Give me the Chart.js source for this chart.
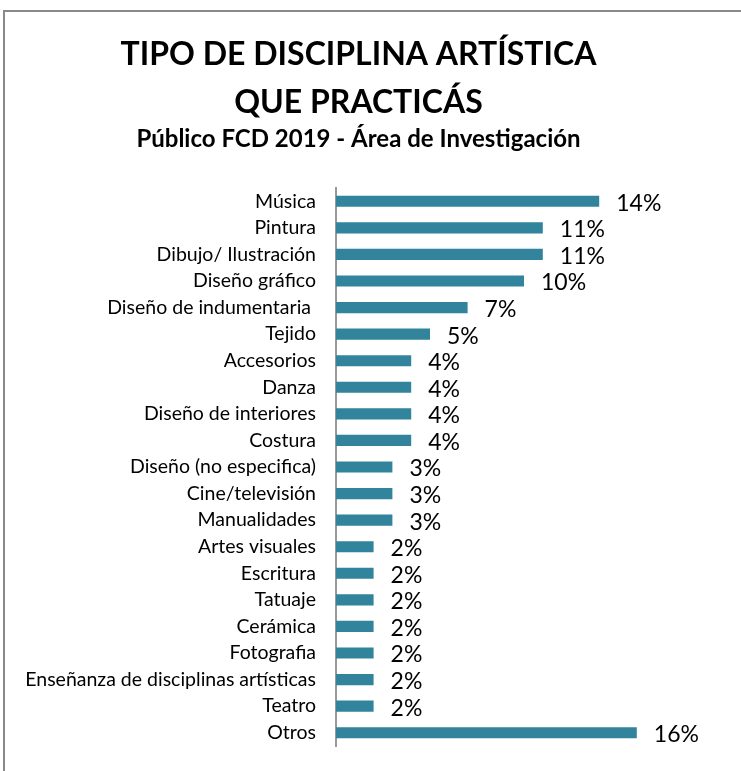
<!DOCTYPE html>
<html>
<head>
<meta charset="utf-8">
<script src="https://cdn.jsdelivr.net/npm/chart.js@4.4.0/dist/chart.umd.min.js"></script>
<style>
  body { margin: 0; background: #fff; overflow: hidden; }
  #box {
    position: absolute; left: 3px; top: 10px;
    width: 760px; height: 780px;
    border: 2px solid #898989;
    background: #fff;
  }
  #myChart { position: absolute; left: 0; top: 0; }
</style>
</head>
<body>
<div id="box"><canvas id="myChart" width="734" height="759"></canvas></div>
<script>
// data
const disciplinas = [
  'Música', 'Pintura', 'Dibujo/ Ilustración', 'Diseño gráfico', 'Diseño de indumentaria ',
  'Tejido', 'Accesorios', 'Danza', 'Diseño de interiores', 'Costura',
  'Diseño (no especifica)', 'Cine/televisión', 'Manualidades', 'Artes visuales', 'Escritura',
  'Tatuaje', 'Cerámica', 'Fotografia', 'Enseñanza de disciplinas artísticas', 'Teatro', 'Otros'
];
const porcentajes = [14, 11, 11, 10, 7, 5, 4, 4, 4, 4, 3, 3, 3, 2, 2, 2, 2, 2, 2, 2, 16];
const tituloLineas = ['TIPO DE DISCIPLINA ARTÍSTICA', 'QUE PRACTICÁS'];
const subtitulo = 'Público FCD 2019 - Área de Investigación';

const FONT = 'Lato, "Open Sans", sans-serif';

// value labels at the end of each bar
const etiquetas = {
  id: 'etiquetas',
  afterDatasetsDraw(chart) {
    const ctx = chart.ctx;
    const meta = chart.getDatasetMeta(0);
    ctx.save();
    ctx.font = '23px ' + FONT;
    ctx.fillStyle = '#000';
    ctx.textAlign = 'left';
    ctx.textBaseline = 'middle';
    meta.data.forEach((bar, i) => {
      ctx.fillText(porcentajes[i] + '%', bar.x + 17, bar.y + 2);
    });
    ctx.restore();
  }
};

const ctx = document.getElementById('myChart').getContext('2d');
const chart = new Chart(ctx, {
  type: 'bar',
  data: {
    labels: disciplinas,
    datasets: [{
      data: porcentajes,
      backgroundColor: '#31849b',
      borderWidth: 0,
      barPercentage: 0.42,
      categoryPercentage: 1
    }]
  },
  options: {
    indexAxis: 'y',
    responsive: false,
    animation: false,
    layout: { padding: { left: 0, right: 27, top: 19, bottom: 25 } },
    plugins: {
      legend: { display: false },
      tooltip: { enabled: false },
      title: {
        display: true,
        text: tituloLineas,
        color: '#000',
        font: { family: FONT, size: 32, weight: 'bold', lineHeight: 1.5 },
        padding: { top: 0, bottom: 0 }
      },
      subtitle: {
        display: true,
        text: subtitulo,
        color: '#000',
        font: { family: FONT, size: 24, weight: 'bold', lineHeight: 1.0 },
        padding: { top: 0, bottom: 37 }
      }
    },
    scales: {
      x: {
        display: false,
        min: 0,
        max: 20
      },
      y: {
        afterFit(scale) {
          scale.width = 331;
          // keep the label padding from shrinking the plot height
          scale.paddingTop = 0;
          scale.paddingBottom = 0;
        },
        grid: { display: false, drawTicks: false },
        border: { display: true, color: '#999', width: 2 },
        ticks: {
          color: '#000',
          padding: 20,
          autoSkip: false,
          font: { family: FONT, size: 19.5 }
        }
      }
    }
  },
  plugins: [etiquetas]
});
</script>
</body>
</html>
